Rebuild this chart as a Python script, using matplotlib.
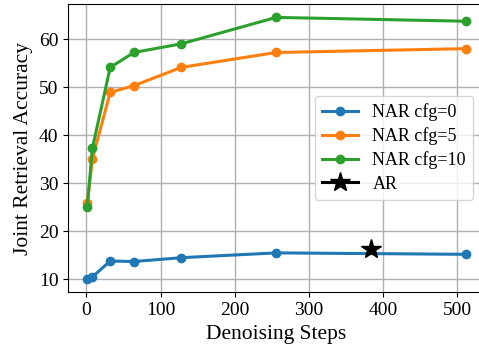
import matplotlib.pyplot as plt

plt.rcParams['font.family'] = ['Liberation Serif', 'DejaVu Serif']
plt.rcParams['mathtext.fontset'] = 'stix'

# denoising steps and joint retrieval accuracy per cfg scale
steps = [1, 8, 32, 64, 128, 256, 512]
acc_cfg0 = [10.0, 10.5, 13.8, 13.7, 14.5, 15.5, 15.2]
acc_cfg5 = [25.8, 35.1, 48.9, 50.3, 54.1, 57.2, 58.0]
acc_cfg10 = [25.0, 37.3, 54.1, 57.2, 59.0, 64.5, 63.7]

# autoregressive baseline
ar_step = [384]
ar_acc = [16.4]

fig = plt.figure(figsize=(4.79, 3.52), dpi=100)
ax = fig.add_axes([0.1426, 0.1693, 0.8695, 0.8185])

ax.plot(steps, acc_cfg0, marker='o', lw=2.2, ms=6, color='tab:blue', label='NAR cfg=0')
ax.plot(steps, acc_cfg5, marker='o', lw=2.2, ms=6, color='tab:orange', label='NAR cfg=5')
ax.plot(steps, acc_cfg10, marker='o', lw=2.2, ms=6, color='tab:green', label='NAR cfg=10')
ax.plot(ar_step, ar_acc, marker='*', lw=2.2, ms=15, color='black', label='AR')

ax.set_xlabel('Denoising Steps', fontsize=15.5)
ax.set_ylabel('Joint Retrieval Accuracy', fontsize=15.5)
ax.tick_params(labelsize=14)
ax.set_xticks([0, 100, 200, 300, 400, 500])
ax.set_yticks([10, 20, 30, 40, 50, 60])
ax.grid(True, lw=1)
ax.legend(fontsize=13, loc='lower right', bbox_to_anchor=(0.972, 0.321), borderaxespad=0,
          labelspacing=0.35)

fig.savefig('out.png', dpi=100)
